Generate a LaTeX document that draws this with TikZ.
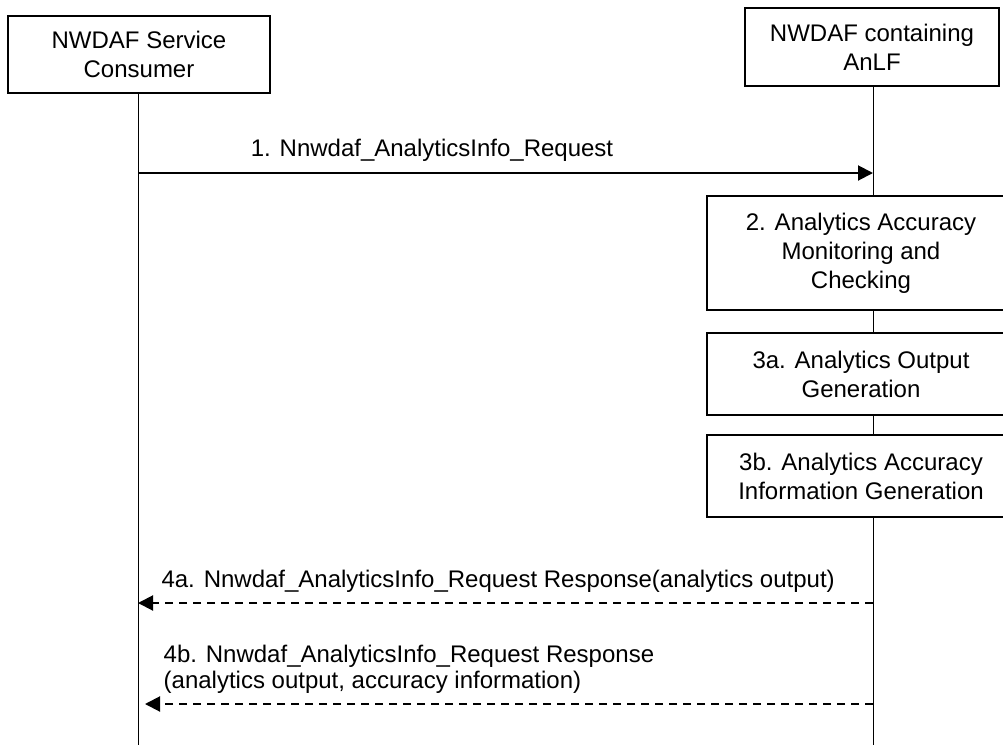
\documentclass[tikz,border=0pt]{standalone}
\usepackage{fontspec}
\setmainfont{Liberation Sans}
\usetikzlibrary{arrows.meta,positioning}
\tikzset{
  >={Triangle[length=7.5pt,width=7.5pt]},
  txt/.style={font=\fontsize{12pt}{14.5pt}\selectfont},
  entity/.style={draw, line width=0.8pt, fill=white, align=center, txt},
  stepbox/.style={draw, line width=0.8pt, fill=white, align=center, txt, minimum width=200pt},
  lifeline/.style={line width=0.5pt},
  msg/.style={->, line width=1pt, txt},
  reply/.style={msg, dash pattern=on 4pt off 3pt},
}

\begin{document}
\begin{tikzpicture}[x=0.5pt, y=-0.5pt]
  \useasboundingbox (0,0) rectangle (1003,745);
  \clip (0,0) rectangle (1003,745);
  % entities and lifelines
  \node[entity, minimum width=131pt, minimum height=38.5pt] (consumer) at (139,54.5) {NWDAF Service\\Consumer};
  \node[entity, minimum width=127pt, minimum height=39pt]   (nwdaf)    at (872,47)   {NWDAF containing\\AnLF};
  \coordinate (consumer-end) at (138,745);
  \coordinate (nwdaf-end)    at (873,745);
  \draw[lifeline] (consumer.south -| consumer-end) -- (consumer-end);
  \draw[lifeline] (nwdaf.south -| nwdaf-end) -- (nwdaf-end);

  % processing steps (boxes run off the right edge)
  \node[stepbox, minimum height=57pt, anchor=west] (step2)  at (706,253) {};
  \node[stepbox, minimum height=41pt, anchor=west] (step3a) at (706,374) {};
  \node[stepbox, minimum height=41pt, anchor=west] (step3b) at (706,476) {};
  \node[txt, align=center] at (861,253) {2. Analytics Accuracy\\Monitoring and\\Checking};
  \node[txt, align=center] at (861,374) {3a. Analytics Output\\Generation};
  \node[txt, align=center] at (861,476) {3b. Analytics Accuracy\\Information Generation};

  % messages
  \coordinate (m1-s) at (138,173);
  \coordinate (m1-e) at (873,173);
  \coordinate (m4a-s) at (873,603);
  \coordinate (m4a-e) at (138,603);
  \coordinate (m4b-s) at (873,704);
  \coordinate (m4b-e) at (145,704);
  \draw[msg] (m1-s) -- node[above, pos=0.4, yshift=2pt]{1. Nnwdaf\_AnalyticsInfo\_Request} (m1-e);
  \draw[reply] (m4a-s) -- node[above, pos=0.51, yshift=1.5pt]{4a. Nnwdaf\_AnalyticsInfo\_Request Response(analytics output)} (m4a-e);
  \draw[reply] (m4b-s) -- node[pos=1, anchor=south west, align=left, xshift=5.5pt, yshift=1.5pt, font=\fontsize{12pt}{13pt}\selectfont]{4b. Nnwdaf\_AnalyticsInfo\_Request Response\\(analytics output, accuracy information)} (m4b-e);
\end{tikzpicture}
\end{document}
